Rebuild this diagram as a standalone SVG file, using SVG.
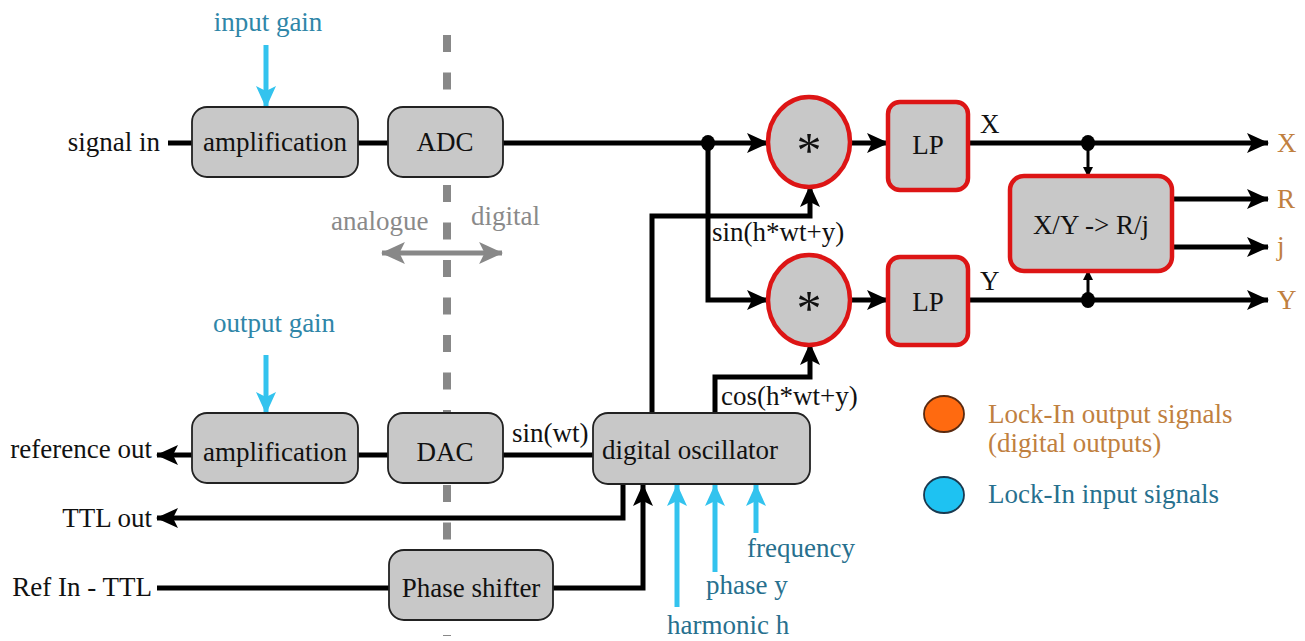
<svg xmlns="http://www.w3.org/2000/svg" width="1305" height="641" viewBox="0 0 1305 641" font-family="'Liberation Serif', 'DejaVu Serif', 'Times New Roman', serif">
<defs>
<style>
text{font-family:'Liberation Serif','DejaVu Serif','Times New Roman',serif;font-size:27px;fill:#111}
.box{fill:#c8c8c8;stroke:#222;stroke-width:1.8}
.rbox{fill:#c8c8c8;stroke:#dd1515;stroke-width:4.5}
.w{fill:none;stroke:#000;stroke-width:5}
.wa{fill:none;stroke:#000;stroke-width:5;marker-end:url(#ah)}
.ws{fill:none;stroke:#000;stroke-width:3;marker-end:url(#ahs)}
.bl{fill:none;stroke:#33c3ee;stroke-width:5;marker-end:url(#ahb)}
.mid{text-anchor:middle}
.end{text-anchor:end}
.blt{fill:#2f86a8}
.blt2{fill:#27708e}
.or{fill:#c08040}
.gr{fill:#8a8a8a}
.star{font-size:50px}
</style>
<marker id="ah" viewBox="0 0 22 20" refX="21" refY="10" markerWidth="22" markerHeight="20" markerUnits="userSpaceOnUse" orient="auto">
<path d="M0,0 L22,10 L0,20 L5,10 z" fill="#000"/>
</marker>
<marker id="ahs" viewBox="0 0 10 10" refX="9" refY="5" markerWidth="10" markerHeight="10" markerUnits="userSpaceOnUse" orient="auto">
<path d="M0,0 L10,5 L0,10 z" fill="#000"/>
</marker>
<marker id="ahb" viewBox="0 0 22 20" refX="21" refY="10" markerWidth="22" markerHeight="20" markerUnits="userSpaceOnUse" orient="auto">
<path d="M0,0 L22,10 L0,20 L5,10 z" fill="#33c3ee"/>
</marker>
<marker id="ahg" viewBox="0 0 22 20" refX="21" refY="10" markerWidth="24" markerHeight="22" markerUnits="userSpaceOnUse" orient="auto-start-reverse">
<path d="M0,0 L22,10 L0,20 L5,10 z" fill="#888"/>
</marker>
</defs>
<rect width="1305" height="641" fill="#fff"/>

<!-- analogue / digital divider -->
<g id="divider">
<line x1="447" y1="35" x2="447" y2="636" stroke="#888" stroke-width="8" stroke-dasharray="17 20.5"/>
<line x1="382" y1="253" x2="502" y2="253" stroke="#888" stroke-width="5" marker-start="url(#ahg)" marker-end="url(#ahg)"/>
<text x="331" y="230" class="gr">analogue</text>
<text x="471" y="225" class="gr">digital</text>
</g>

<!-- connectors -->
<g id="connectors">
<path class="w" d="M168,143 H192"/>
<path class="w" d="M358,143 H388"/>
<path class="wa" d="M503,143 H768"/>
<path class="wa" d="M708,143 V300 H768"/>
<path class="wa" d="M850,143 H888"/>
<path class="wa" d="M968,143 H1268"/>
<path class="ws" d="M1088,143 V176"/>
<path class="wa" d="M1172,199 H1268"/>
<path class="wa" d="M1172,247 H1268"/>
<path class="wa" d="M850,300 H888"/>
<path class="wa" d="M968,300 H1268"/>
<path class="ws" d="M1088,300 V271"/>
<path class="wa" d="M652,413 V216 H810 V186"/>
<path class="wa" d="M715,413 V377 H810 V344"/>
<path class="w" d="M503,455 H593"/>
<path class="w" d="M358,455 H388"/>
<path class="wa" d="M192,455 H157"/>
<path class="wa" d="M623,484 V518 H157"/>
<path class="w" d="M157,588 H389"/>
<path class="wa" d="M553,588 H643 V485"/>
<path class="bl" d="M266,45 V107"/>
<path class="bl" d="M266,355 V413"/>
<path class="bl" d="M677,607 V485"/>
<path class="bl" d="M715,572 V485"/>
<path class="bl" d="M756,533 V485"/>
<ellipse cx="708" cy="143" rx="7" ry="8" fill="#000"/>
<ellipse cx="1088" cy="143" rx="7" ry="8" fill="#000"/>
<ellipse cx="1088" cy="300" rx="7" ry="8" fill="#000"/>
</g>

<g id="labels">
<text x="268" y="31" class="mid blt">input gain</text>
<text x="160" y="151" class="end">signal in</text>
<text x="712" y="241">sin(h*wt+y)</text>
<text x="980" y="133">X</text>
<text x="980" y="290">Y</text>
<text x="1277" y="152" class="or">X</text>
<text x="1277" y="208" class="or">R</text>
<text x="1277" y="255" class="or">j</text>
<text x="1277" y="309" class="or">Y</text>
<text x="274" y="332" class="mid blt">output gain</text>
<text x="152" y="458" class="end">reference out</text>
<text x="512" y="442">sin(wt)</text>
<text x="721" y="405">cos(h*wt+y)</text>
<text x="152" y="527" class="end">TTL out</text>
<text x="152" y="596" class="end">Ref In - TTL</text>
<text x="747" y="557" class="blt2">frequency</text>
<text x="706" y="594" class="blt2">phase y</text>
<text x="667" y="634" class="blt2">harmonic h</text>
</g>

<g id="amp_in">
<rect class="box" x="192" y="107" width="166" height="70" rx="15"/>
<text x="275" y="151" class="mid">amplification</text>
</g>
<g id="adc">
<rect class="box" x="388" y="107" width="115" height="70" rx="15"/>
<text x="445" y="151" class="mid">ADC</text>
</g>
<g id="mult1">
<ellipse class="rbox" cx="809" cy="142" rx="41" ry="45"/>
<text x="809" y="167" class="mid star">*</text>
</g>
<g id="mult2">
<ellipse class="rbox" cx="809" cy="300" rx="41" ry="45"/>
<text x="809" y="325" class="mid star">*</text>
</g>
<g id="lp1">
<rect class="rbox" x="888" y="102" width="80" height="88" rx="12"/>
<text x="928" y="154" class="mid">LP</text>
</g>
<g id="lp2">
<rect class="rbox" x="888" y="257" width="80" height="88" rx="12"/>
<text x="928" y="311" class="mid">LP</text>
</g>
<g id="xy2rj">
<rect class="rbox" x="1010" y="176" width="162" height="95" rx="14"/>
<text x="1091" y="234" class="mid">X/Y -&gt; R/j</text>
</g>
<g id="amp_out">
<rect class="box" x="192" y="413" width="166" height="70" rx="15"/>
<text x="275" y="461" class="mid">amplification</text>
</g>
<g id="dac">
<rect class="box" x="388" y="413" width="115" height="70" rx="15"/>
<text x="445" y="461" class="mid">DAC</text>
</g>
<g id="oscillator">
<rect class="box" x="593" y="413" width="217" height="71" rx="15"/>
<text x="690" y="459" class="mid">digital oscillator</text>
</g>
<g id="phase_shifter">
<rect class="box" x="389" y="550" width="164" height="70" rx="15"/>
<text x="471" y="597" class="mid">Phase shifter</text>
</g>

<g id="legend">
<ellipse cx="944" cy="414" rx="20" ry="18" fill="#ff6a10" stroke="#5a2a10" stroke-width="1.8"/>
<text x="988" y="423" class="or">Lock-In output signals</text>
<text x="988" y="452" class="or">(digital outputs)</text>
<ellipse cx="944" cy="495" rx="20" ry="18" fill="#1ec2f2" stroke="#1a3a50" stroke-width="1.8"/>
<text x="988" y="503" class="blt2">Lock-In input signals</text>
</g>
</svg>
